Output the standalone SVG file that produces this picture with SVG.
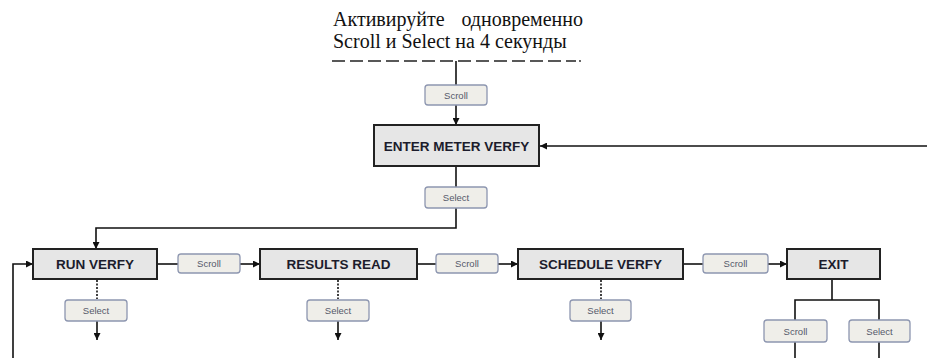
<svg xmlns="http://www.w3.org/2000/svg" width="927" height="358" viewBox="0 0 927 358">
<style>
.box{fill:#e6e6e6;stroke:#222;stroke-width:2}
.btn{fill:#efeee9;stroke:#8d96b0;stroke-width:1.3}
.bt{font-family:"Liberation Sans",Arial,sans-serif;font-size:13.5px;font-weight:bold;fill:#1c1c2c;text-anchor:middle}
.st{font-family:"Liberation Sans",Arial,sans-serif;font-size:9.5px;fill:#55596a;text-anchor:middle}
.ln{fill:none;stroke:#111;stroke-width:1.6}
.dt{fill:none;stroke:#111;stroke-width:1.6;stroke-dasharray:2 1.5}
.hd{font-family:"Liberation Serif","Times New Roman",serif;font-size:20px;fill:#111}
</style>
<defs>
<marker id="ah" viewBox="0 0 8 8" refX="8" refY="4" markerWidth="7" markerHeight="7" markerUnits="userSpaceOnUse" orient="auto">
<path d="M0,0 L8,4 L0,8 z" fill="#111"/>
</marker>
</defs>

<g id="header">
<text class="hd" x="333" y="26">Активируйте</text>
<text class="hd" x="583" y="26" text-anchor="end">одновременно</text>
<text class="hd" x="333" y="48">Scroll и Select на 4 секунды</text>
<line x1="332" y1="61" x2="576" y2="61" stroke="#222" stroke-width="1.6" stroke-dasharray="13 5"/>
<circle cx="580" cy="61" r="0.9" fill="#222"/>
</g>

<g id="connectors">
<line class="ln" x1="456" y1="61" x2="456" y2="85"/>
<line class="ln" x1="456" y1="105" x2="456" y2="125" marker-end="url(#ah)"/>
<line class="ln" x1="927" y1="146" x2="540" y2="146" marker-end="url(#ah)"/>
<line class="ln" x1="456" y1="166" x2="456" y2="187"/>
<polyline class="ln" points="456,208 456,228 96,228 96,249" marker-end="url(#ah)"/>
<line class="ln" x1="157" y1="264" x2="178" y2="264"/>
<line class="ln" x1="240" y1="264" x2="260" y2="264" marker-end="url(#ah)"/>
<line class="ln" x1="417" y1="264" x2="436" y2="264"/>
<line class="ln" x1="498" y1="264" x2="518" y2="264" marker-end="url(#ah)"/>
<line class="ln" x1="683" y1="264" x2="703" y2="264"/>
<line class="ln" x1="768" y1="264" x2="787" y2="264" marker-end="url(#ah)"/>
<line class="dt" x1="97" y1="280" x2="97" y2="299"/>
<line class="ln" x1="97" y1="321" x2="97" y2="340" marker-end="url(#ah)"/>
<line class="dt" x1="338" y1="280" x2="338" y2="299"/>
<line class="ln" x1="338" y1="321" x2="338" y2="340" marker-end="url(#ah)"/>
<line class="dt" x1="601" y1="280" x2="601" y2="299"/>
<line class="ln" x1="601" y1="321" x2="601" y2="340" marker-end="url(#ah)"/>
<polyline class="ln" points="13,358 13,264 33,264" marker-end="url(#ah)"/>
<line class="ln" x1="832" y1="279" x2="832" y2="300"/>
<polyline class="ln" points="795,320 795,300 879,300 879,320"/>
<line class="ln" x1="795" y1="342" x2="795" y2="358"/>
<line class="ln" x1="879" y1="342" x2="879" y2="358"/>
</g>

<g id="btn-scroll-top"><rect class="btn" x="425" y="85" width="62" height="20" rx="3"/><text class="st" x="456" y="98.5">Scroll</text></g>

<g id="enter-meter-verfy"><rect class="box" x="374" y="125" width="165" height="41"/><text class="bt" x="456.5" y="150.5">ENTER METER VERFY</text></g>

<g id="btn-select-enter"><rect class="btn" x="425" y="187" width="62" height="21" rx="3"/><text class="st" x="456" y="201">Select</text></g>

<g id="run-verfy"><rect class="box" x="33" y="249" width="124" height="30"/><text class="bt" x="95" y="269">RUN VERFY</text></g>
<g id="btn-scroll-1"><rect class="btn" x="178" y="254" width="62" height="19" rx="3"/><text class="st" x="209" y="267">Scroll</text></g>
<g id="btn-select-1"><rect class="btn" x="65" y="300" width="62" height="21" rx="3"/><text class="st" x="96" y="314">Select</text></g>

<g id="results-read"><rect class="box" x="260" y="249" width="157" height="30"/><text class="bt" x="338.5" y="269">RESULTS READ</text></g>
<g id="btn-scroll-2"><rect class="btn" x="436" y="254" width="62" height="19" rx="3"/><text class="st" x="467" y="267">Scroll</text></g>
<g id="btn-select-2"><rect class="btn" x="307" y="300" width="62" height="21" rx="3"/><text class="st" x="338" y="314">Select</text></g>

<g id="schedule-verfy"><rect class="box" x="518" y="249" width="165" height="30"/><text class="bt" x="600.5" y="269">SCHEDULE VERFY</text></g>
<g id="btn-scroll-3"><rect class="btn" x="703" y="254" width="65" height="19" rx="3"/><text class="st" x="735.5" y="267">Scroll</text></g>
<g id="btn-select-3"><rect class="btn" x="570" y="300" width="61" height="21" rx="3"/><text class="st" x="600.5" y="314">Select</text></g>

<g id="exit"><rect class="box" x="787" y="249" width="93" height="30"/><text class="bt" x="833.5" y="269">EXIT</text></g>
<g id="btn-scroll-exit"><rect class="btn" x="764" y="320" width="63" height="22" rx="3"/><text class="st" x="795.5" y="334.5">Scroll</text></g>
<g id="btn-select-exit"><rect class="btn" x="849" y="320" width="61" height="22" rx="3"/><text class="st" x="879.5" y="334.5">Select</text></g>
</svg>
